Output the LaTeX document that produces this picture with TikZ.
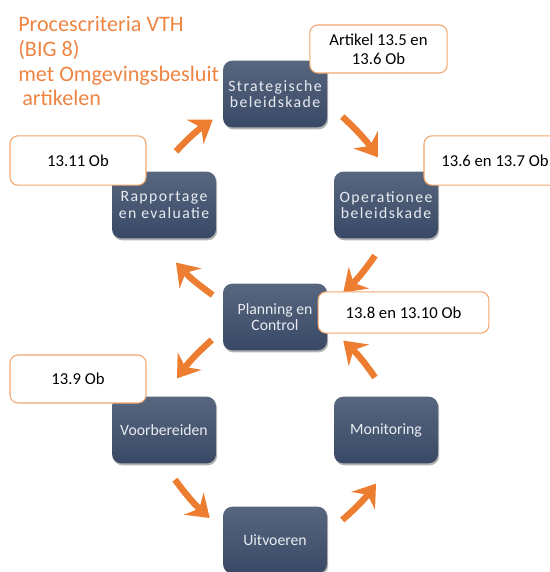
\documentclass[tikz,border=0pt]{standalone}
\usepackage{fontspec}
\setmainfont{Carlito}
\usetikzlibrary{arrows.meta}
\usetikzlibrary{shadows}
\definecolor{bt}{HTML}{58677F}
\definecolor{bb}{HTML}{394865}
\definecolor{tx}{HTML}{E9ECF2}
\definecolor{or}{HTML}{ED7D31}
\definecolor{ti}{HTML}{EE8442}
\definecolor{ob}{HTML}{F2A66E}

\tikzset{
  stap/.style={rounded corners=7pt, minimum width=78pt, minimum height=50pt, inner sep=0pt,
    top color=bt, bottom color=bb, text=tx, align=center, font=\fontsize{11.8}{12.2}\selectfont,
    drop shadow={shadow xshift=0.8pt, shadow yshift=-1.5pt, opacity=0.3, fill=black}},
  sperr/.style={font=\fontsize{11.8}{12.2}\selectfont\addfontfeature{LetterSpace=9}},
  artikel/.style={rounded corners=6pt, draw=ob, line width=0.8pt, fill=white, inner sep=0pt,
    align=center, font=\fontsize{12.5}{14}\selectfont},
  pijl/.style={draw=or, line width=4.8pt, -{Stealth[length=16pt, width=22pt, inset=5.5pt]}},
}

\begin{document}
\begin{tikzpicture}[x=0.75pt, y=-0.75pt]
  \clip (0,0) rectangle (550,572);

  % stappen
  \node[stap, sperr] (str) at (275,94) {Strategische\\beleidskade};
  \node[stap, sperr] (rap) at (164,205) {Rapportage\\en evaluatie};
  \node[stap, sperr] (op) at (386,205) {Operationee\\beleidskade};
  \node[stap] (plan) at (275,317) {Planning en\\Control};
  \node[stap] (voor) at (164,430) {Voorbereiden};
  \node[stap] (mon) at (386,430) {Monitoring};
  \node[stap] (uit) at (275,540) {Uitvoeren};

  % pijlen
  \draw[pijl] ([shift={(12,-20)}]rap.north) to[bend left=6] ([shift={(-10,-8)}]str.south west);
  \draw[pijl] ([shift={(15,-11)}]str.south east) to[bend left=6] ([shift={(-8,-14)}]op.north);
  \draw[pijl] ([shift={(-11,17)}]op.south) to[bend left=6] ([shift={(16,9)}]plan.north east);
  \draw[pijl] ([shift={(-10,-22)}]plan.west) to[bend left=6] ([shift={(12,24)}]rap.south);
  \draw[pijl] ([shift={(-11,23)}]plan.west) to[bend right=6] ([shift={(13,-18)}]voor.north);
  \draw[pijl] ([shift={(11,16)}]voor.south) to[bend right=6] ([shift={(-13,-22)}]uit.west);
  \draw[pijl] ([shift={(15,-20)}]uit.east) to[bend right=6] ([shift={(-10,20)}]mon.south);
  \draw[pijl] ([shift={(-11,-19)}]mon.north) to[bend right=6] ([shift={(16,-10)}]plan.south east);

  % artikelen
  \node[artikel, minimum width=103pt, minimum height=36pt] (a1) at (378.5,49) {Artikel 13.5 en\\13.6 Ob};
  \node[artikel, minimum width=102pt, minimum height=37pt] (a2) at (78,160.5) {13.11 Ob};
  \node[artikel, minimum width=106.5pt, minimum height=37pt] (a3) at (495,160.5) {13.6 en 13.7 Ob};
  \node[artikel, minimum width=128pt, minimum height=31pt] (a4) at (403.5,312.5) {13.8 en 13.10 Ob};
  \node[artikel, minimum width=102pt, minimum height=36pt] (a5) at (78,379) {13.9 Ob};

  % titel
  \node[anchor=north west, inner sep=0pt, align=left, text=ti, font=\fontsize{16.6}{18.6}\selectfont] (titel) at (18,16)
    {Procescriteria VTH\\(BIG 8)\\met Omgevingsbesluit\\\hspace*{3pt}artikelen};
\end{tikzpicture}
\end{document}
